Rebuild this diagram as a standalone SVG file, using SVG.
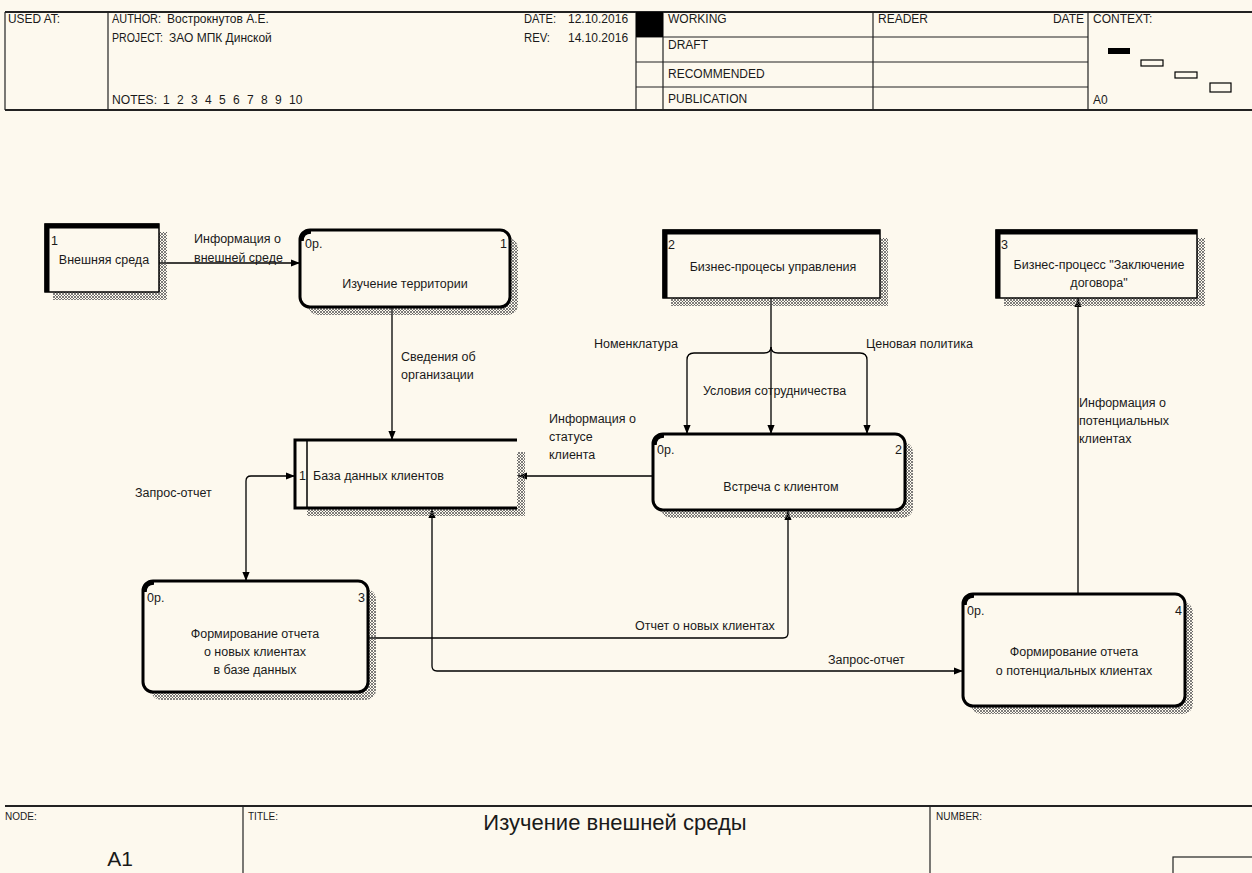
<svg xmlns="http://www.w3.org/2000/svg" width="1252" height="873" viewBox="0 0 1252 873">
  <style>
    text { font-family: "Liberation Sans", Arial, sans-serif; fill: #1a1a1a; }
    .hd { font-size: 12px; }
    .ft { font-size: 10px; }
    .lb { font-size: 12.5px; }
    .mid { text-anchor: middle; }
    .end { text-anchor: end; }
    .frame { stroke: #222; stroke-width: 1.2; fill: none; }
    .frameB { stroke: #222; stroke-width: 2; fill: none; }
    .box { fill: #fdf9ee; stroke: #000; stroke-width: 3; }
    .corner { fill: none; stroke: #000; stroke-width: 4.5; }
    .shadow { fill: url(#hatch); stroke: none; }
    .conn { stroke: #000; stroke-width: 1.3; fill: none; }
  </style>
  <defs>
    <pattern id="hatch" width="3" height="3" patternUnits="userSpaceOnUse">
      <path d="M0,0 L3,3 M3,0 L0,3" stroke="#555" stroke-width="0.75"/>
    </pattern>
    <marker id="arr" viewBox="0 0 10 10" refX="10" refY="5" markerWidth="9" markerHeight="9" orient="auto-start-reverse" markerUnits="userSpaceOnUse">
      <path d="M0,1 L10,5 L0,9 z" fill="#000"/>
    </marker>
  </defs>

  <rect width="1252" height="873" fill="#fdf9ee"/>

  <!-- header frame -->
  <g id="header">
    <line x1="5" y1="12" x2="1252" y2="12" class="frameB"/>
    <line x1="5" y1="110" x2="1252" y2="110" class="frameB"/>
    <line x1="5" y1="12" x2="5" y2="110" class="frame"/>
    <line x1="108" y1="12" x2="108" y2="110" class="frame"/>
    <line x1="636" y1="12" x2="636" y2="110" class="frame"/>
    <line x1="663" y1="12" x2="663" y2="110" class="frame"/>
    <line x1="873" y1="12" x2="873" y2="110" class="frame"/>
    <line x1="1088" y1="12" x2="1088" y2="110" class="frame"/>
    <line x1="636" y1="37" x2="1088" y2="37" class="frame"/>
    <line x1="636" y1="62" x2="1088" y2="62" class="frame"/>
    <line x1="636" y1="87" x2="1088" y2="87" class="frame"/>
    <rect x="636" y="12" width="27" height="25" fill="#000"/>
    <text class="hd" x="8" y="23" textLength="52" lengthAdjust="spacingAndGlyphs">USED AT:</text>
    <text class="hd" x="112" y="23" textLength="49" lengthAdjust="spacingAndGlyphs">AUTHOR:</text>
    <text class="hd" x="167" y="23">Вострокнутов А.Е.</text>
    <text class="hd" x="112" y="42" textLength="51" lengthAdjust="spacingAndGlyphs">PROJECT:</text>
    <text class="hd" x="169" y="42">ЗАО МПК Динской</text>
    <text class="hd" x="112" y="104" textLength="45" lengthAdjust="spacingAndGlyphs">NOTES:</text>
    <text class="hd" x="163" y="104">1</text>
    <text class="hd" x="177" y="104">2</text>
    <text class="hd" x="191" y="104">3</text>
    <text class="hd" x="205" y="104">4</text>
    <text class="hd" x="219" y="104">5</text>
    <text class="hd" x="233" y="104">6</text>
    <text class="hd" x="247" y="104">7</text>
    <text class="hd" x="261" y="104">8</text>
    <text class="hd" x="275" y="104">9</text>
    <text class="hd" x="289" y="104">10</text>
    <text class="hd" x="524" y="23" textLength="32" lengthAdjust="spacingAndGlyphs">DATE:</text>
    <text class="hd" x="568" y="23">12.10.2016</text>
    <text class="hd" x="524" y="42" textLength="26" lengthAdjust="spacingAndGlyphs">REV:</text>
    <text class="hd" x="568" y="42">14.10.2016</text>
    <text class="hd" x="668" y="23">WORKING</text>
    <text class="hd" x="668" y="49">DRAFT</text>
    <text class="hd" x="668" y="78">RECOMMENDED</text>
    <text class="hd" x="668" y="103">PUBLICATION</text>
    <text class="hd" x="878" y="23">READER</text>
    <text class="hd end" x="1084" y="23">DATE</text>
    <text class="hd" x="1093" y="23">CONTEXT:</text>
    <text class="hd" x="1093" y="104">A0</text>
    <rect x="1108" y="48" width="22" height="6" fill="#000"/>
    <rect x="1141" y="60" width="22" height="6" fill="none" stroke="#000" stroke-width="1.2"/>
    <rect x="1175" y="72" width="22" height="6" fill="none" stroke="#000" stroke-width="1.2"/>
    <rect x="1210" y="83" width="21" height="9" fill="none" stroke="#000" stroke-width="1.2"/>
  </g>

  <!-- footer frame -->
  <g id="footer">
    <line x1="5" y1="806" x2="1252" y2="806" class="frameB"/>
    <line x1="243" y1="806" x2="243" y2="873" class="frame"/>
    <line x1="930" y1="806" x2="930" y2="873" class="frame"/>
    <text class="ft" x="5" y="820">NODE:</text>
    <text class="ft" x="248" y="820">TITLE:</text>
    <text class="ft" x="936" y="820">NUMBER:</text>
    <text class="mid" x="615" y="830" style="font-size:22px">Изучение внешней среды</text>
    <text class="mid" x="120" y="866" style="font-size:21px">A1</text>
    <rect x="1173" y="857" width="85" height="30" fill="none" stroke="#222" stroke-width="1.2"/>
  </g>

  <!-- connectors -->
  <g id="connectors">
    <path class="conn" d="M159,263 H300" marker-end="url(#arr)"/>
    <path class="conn" d="M392,307 V440" marker-end="url(#arr)"/>
    <path class="conn" d="M771,298 V434" marker-end="url(#arr)"/>
    <path class="conn" d="M771,347 Q771,353 764,353 H694 Q687,353 687,360 V434" marker-end="url(#arr)"/>
    <path class="conn" d="M771,347 Q771,353 778,353 H860 Q867,353 867,360 V434" marker-end="url(#arr)"/>
    <path class="conn" d="M653,476 H518" marker-end="url(#arr)"/>
    <path class="conn" d="M246,581 V481 Q246,476 251,476 H295" marker-start="url(#arr)" marker-end="url(#arr)"/>
    <path class="conn" d="M368,638 H783 Q788,638 788,633 V511" marker-end="url(#arr)"/>
    <path class="conn" d="M432,509 V666 Q432,671 437,671 H963" marker-start="url(#arr)" marker-end="url(#arr)"/>
    <path class="conn" d="M1078,594 V298" marker-end="url(#arr)"/>

    <text class="lb" x="194" y="243">Информация о</text>
    <text class="lb" x="194" y="262">внешней среде</text>
    <text class="lb" x="401" y="361">Сведения об</text>
    <text class="lb" x="401" y="379">организации</text>
    <text class="lb" x="594" y="348">Номенклатура</text>
    <text class="lb" x="866" y="348">Ценовая политика</text>
    <text class="lb" x="703" y="395">Условия сотрудничества</text>
    <text class="lb" x="549" y="423">Информация о</text>
    <text class="lb" x="549" y="441">статусе</text>
    <text class="lb" x="549" y="459">клиента</text>
    <text class="lb" x="135" y="497">Запрос-отчет</text>
    <text class="lb" x="635" y="630">Отчет о новых клиентах</text>
    <text class="lb" x="828" y="664">Запрос-отчет</text>
    <text class="lb" x="1079" y="407">Информация о</text>
    <text class="lb" x="1079" y="425">потенциальных</text>
    <text class="lb" x="1079" y="443">клиентах</text>
  </g>

  <!-- external reference: Внешняя среда -->
  <g id="ext1">
    <path class="shadow" d="M159,232 H167 V300 H53 V292 H159 z"/>
    <rect x="45" y="224" width="114" height="68" fill="#fdf9ee" stroke="#000" stroke-width="1.5"/>
    <path d="M47,292 V226 H159" fill="none" stroke="#000" stroke-width="5"/>
    <text class="lb" x="51" y="245">1</text>
    <text class="lb mid" x="104" y="264">Внешняя среда</text>
  </g>

  <!-- activity 1 -->
  <g id="act1">
    <rect class="shadow" x="308" y="238" width="210" height="77" rx="10"/>
    <rect class="box" x="300" y="230" width="210" height="77" rx="10"/>
    <path class="corner" d="M301.5,241 Q301.5,231.5 311,231.5"/>
    <text class="lb" x="305" y="248">0р.</text>
    <text class="lb end" x="507" y="248">1</text>
    <text class="lb mid" x="405" y="288">Изучение территории</text>
  </g>

  <!-- external reference: Бизнес-процесы управления -->
  <g id="ext2">
    <path class="shadow" d="M880,238 H888 V306 H671 V298 H880 z"/>
    <rect x="663" y="230" width="217" height="68" fill="#fdf9ee" stroke="#000" stroke-width="1.5"/>
    <path d="M665,298 V232 H880" fill="none" stroke="#000" stroke-width="5"/>
    <text class="lb" x="668" y="249">2</text>
    <text class="lb mid" x="773" y="271">Бизнес-процесы управления</text>
  </g>

  <!-- external reference: Заключение договора -->
  <g id="ext3">
    <path class="shadow" d="M1197,238 H1205 V306 H1004 V298 H1197 z"/>
    <rect x="996" y="230" width="201" height="68" fill="#fdf9ee" stroke="#000" stroke-width="1.5"/>
    <path d="M998,298 V232 H1197" fill="none" stroke="#000" stroke-width="5"/>
    <text class="lb" x="1001" y="249">3</text>
    <text class="lb mid" x="1099" y="269">Бизнес-процесс "Заключение</text>
    <text class="lb mid" x="1099" y="287">договора"</text>
  </g>

  <!-- data store -->
  <g id="store1">
    <path class="shadow" d="M517,452 H525 V516 H307 V508 H517 z"/>
    <rect x="295" y="440" width="222" height="68" fill="#fdf9ee" stroke="none"/>
    <path d="M517,440 H295 V508 H517" fill="none" stroke="#000" stroke-width="3"/>
    <line x1="307" y1="440" x2="307" y2="508" stroke="#000" stroke-width="1.5"/>
    <text class="lb" x="299" y="480">1</text>
    <text class="lb" x="313" y="480">База данных клиентов</text>
  </g>

  <!-- activity 2 -->
  <g id="act2">
    <rect class="shadow" x="661" y="442" width="252" height="76" rx="10"/>
    <rect class="box" x="653" y="434" width="252" height="76" rx="10"/>
    <path class="corner" d="M654.5,445 Q654.5,435.5 664,435.5"/>
    <text class="lb" x="657" y="454">0р.</text>
    <text class="lb end" x="902" y="454">2</text>
    <text class="lb mid" x="781" y="491">Встреча с клиентом</text>
  </g>

  <!-- activity 3 -->
  <g id="act3">
    <rect class="shadow" x="151" y="589" width="225" height="111" rx="10"/>
    <rect class="box" x="143" y="581" width="225" height="111" rx="10"/>
    <path class="corner" d="M144.5,592 Q144.5,582.5 154,582.5"/>
    <text class="lb" x="147" y="602">0р.</text>
    <text class="lb end" x="365" y="602">3</text>
    <text class="lb mid" x="255" y="638">Формирование отчета</text>
    <text class="lb mid" x="255" y="656">о новых клиентах</text>
    <text class="lb mid" x="255" y="674">в базе данных</text>
  </g>

  <!-- activity 4 -->
  <g id="act4">
    <rect class="shadow" x="971" y="602" width="222" height="112" rx="10"/>
    <rect class="box" x="963" y="594" width="222" height="112" rx="10"/>
    <path class="corner" d="M964.5,605 Q964.5,595.5 974,595.5"/>
    <text class="lb" x="967" y="615">0р.</text>
    <text class="lb end" x="1182" y="615">4</text>
    <text class="lb mid" x="1074" y="656">Формирование отчета</text>
    <text class="lb mid" x="1074" y="675">о потенциальных клиентах</text>
  </g>
</svg>
